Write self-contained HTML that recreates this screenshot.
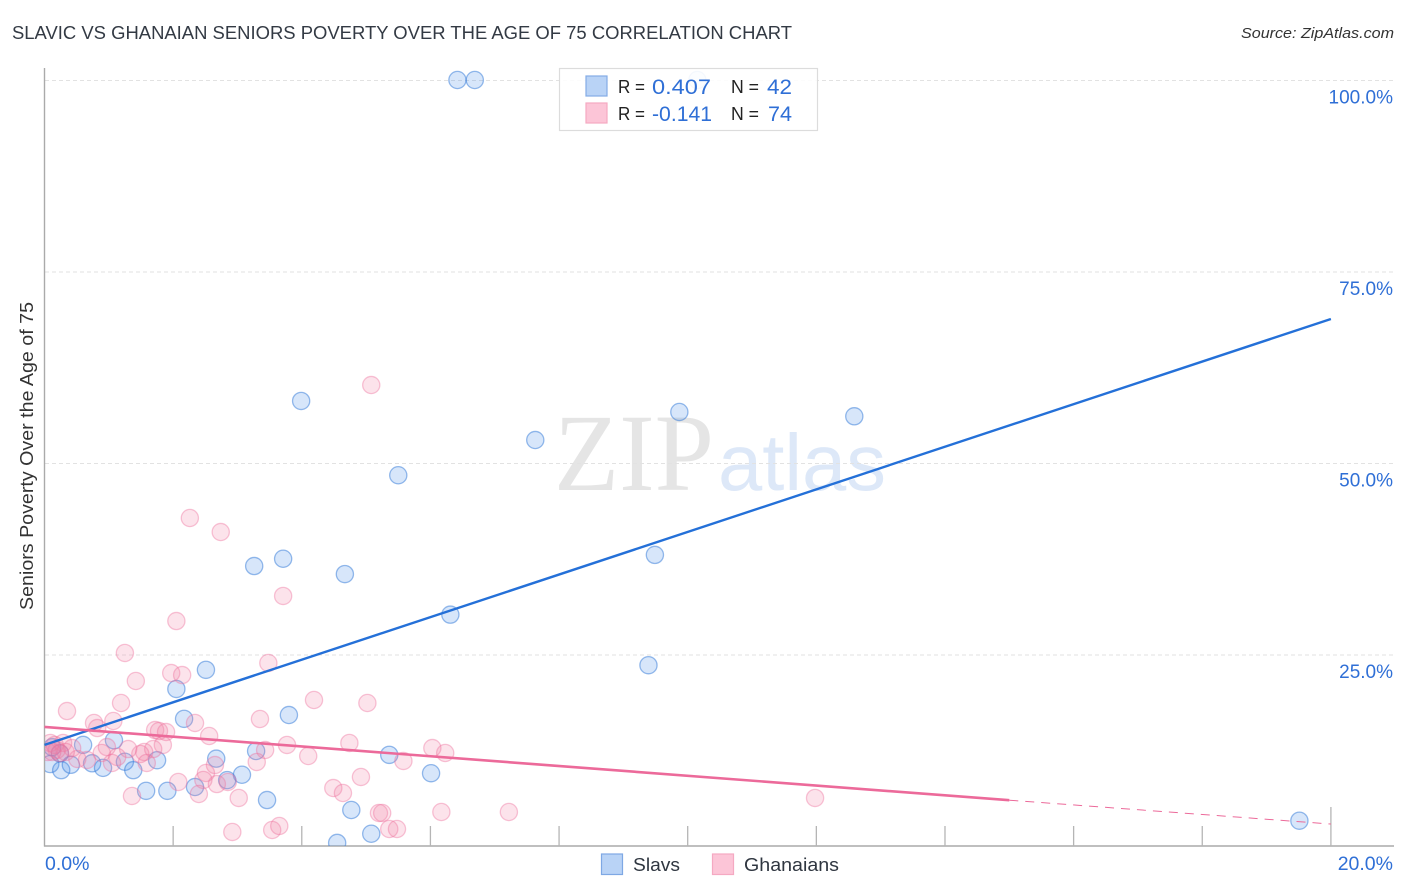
<!DOCTYPE html>
<html lang="en">
<head>
<meta charset="utf-8">
<title>Slavic vs Ghanaian Seniors Poverty Over the Age of 75 Correlation Chart</title>
<style>
html,body{margin:0;padding:0;background:#fff;width:1406px;height:892px;overflow:hidden}
svg{display:block}
text{font-family:"Liberation Sans",sans-serif}
</style>
</head>
<body>
<svg id="chart" xmlns="http://www.w3.org/2000/svg" width="1406" height="892" viewBox="0 0 1406 892">
  <defs><clipPath id="plot-clip"><rect x="45" y="60" width="1349" height="786"/></clipPath></defs>
  <text x="12" y="39" font-size="18.5" fill="#333a44" textLength="780" lengthAdjust="spacingAndGlyphs">SLAVIC VS GHANAIAN SENIORS POVERTY OVER THE AGE OF 75 CORRELATION CHART</text>
  <text x="1394" y="38" font-size="15" font-style="italic" fill="#333" text-anchor="end" textLength="153" lengthAdjust="spacingAndGlyphs">Source: ZipAtlas.com</text>
  <g>
    <text x="554" y="490" font-size="110" fill="#e5e5e5" textLength="160" lengthAdjust="spacingAndGlyphs" style="font-family:'Liberation Serif',serif">ZIP</text>
    <text x="718" y="490" font-size="80" fill="#dde8f8" textLength="168" lengthAdjust="spacingAndGlyphs">atlas</text>
  </g>
  <g id="grid"></g>
  <g id="axes"></g>
  <g id="marks" clip-path="url(#plot-clip)"></g>
  <g id="lines"></g>
  <g id="tick-labels"></g>
  <text transform="translate(33,456) rotate(-90)" font-size="18.5" fill="#333" text-anchor="middle" textLength="308" lengthAdjust="spacingAndGlyphs">Seniors Poverty Over the Age of 75</text>
  <g>
    <rect x="559.5" y="68.5" width="258" height="62" fill="#fff" fill-opacity="0.9" stroke="#dcdcdc" stroke-width="1.2"/>
    <rect x="586" y="76" width="21" height="20" fill="#b9d3f6" stroke="#84ace6" stroke-width="1.2"/>
    <rect x="586" y="103" width="21" height="20" fill="#fcc5d7" stroke="#f5a9c2" stroke-width="1.2"/>
    <text x="618" y="93" font-size="18.5" fill="#222" textLength="27" lengthAdjust="spacingAndGlyphs">R =</text>
    <text x="652" y="94" font-size="21" fill="#2f6fd6" textLength="59" lengthAdjust="spacingAndGlyphs">0.407</text>
    <text x="731" y="93" font-size="18.5" fill="#222" textLength="28" lengthAdjust="spacingAndGlyphs">N =</text>
    <text x="767" y="94" font-size="21" fill="#2f6fd6" textLength="25" lengthAdjust="spacingAndGlyphs">42</text>
    <text x="618" y="120" font-size="18.5" fill="#222" textLength="27" lengthAdjust="spacingAndGlyphs">R =</text>
    <text x="652" y="121" font-size="21" fill="#2f6fd6" textLength="60" lengthAdjust="spacingAndGlyphs">-0.141</text>
    <text x="731" y="120" font-size="18.5" fill="#222" textLength="28" lengthAdjust="spacingAndGlyphs">N =</text>
    <text x="768" y="121" font-size="21" fill="#2f6fd6" textLength="24" lengthAdjust="spacingAndGlyphs">74</text>
  </g>
  <g>
    <rect x="601.5" y="854" width="21" height="20.5" fill="#b9d3f6" stroke="#7ea8e4" stroke-width="1.2"/>
    <text x="633" y="871" font-size="18.5" fill="#2f3640" textLength="47" lengthAdjust="spacingAndGlyphs">Slavs</text>
    <rect x="712.5" y="854" width="21" height="20.5" fill="#fcc5d7" stroke="#f5a9c2" stroke-width="1.2"/>
    <text x="744" y="871" font-size="18.5" fill="#2f3640" textLength="95" lengthAdjust="spacingAndGlyphs">Ghanaians</text>
  </g>
</svg>
<script>
const slavsX = [6.42,6.69,10.15,3.99,7.63,9.87,12.59,5.50,3.26,3.71,4.67,9.49,6.31,9.39,2.51,2.05,2.17,3.80,1.08,3.29,5.36,2.67,6.01,3.07,2.84,2.34,1.58,1.91,3.46,4.77,5.08,4.55,19.51,0.12,0.09,0.24,0.26,0.41,0.60,0.74,0.91,1.25,1.38,1.75];
const slavsY = [100,100,100,58.1,53.0,56.66,56.1,48.4,36.55,37.5,35.5,38.0,30.2,23.6,23.0,20.5,16.6,17.1,13.8,12.4,11.9,11.4,9.5,9.3,8.6,7.7,7.2,7.2,6.0,4.7,1.6,0.4,3.3,12.9,10.7,12.1,9.9,10.6,13.2,10.8,10.2,11.0,9.9,11.2];
const ghanaiansX = [5.08,2.26,2.74,3.71,2.05,0.77,0.82,1.07,1.19,0.35,1.42,1.25,1.97,2.14,3.48,4.19,5.02,3.35,2.34,2.56,1.72,1.78,1.89,1.84,1.69,1.55,1.49,1.30,1.13,0.97,0.89,0.66,0.51,0.43,0.29,0.09,0.19,0.24,1.59,1.05,3.43,3.30,3.77,4.10,4.74,5.58,6.03,6.23,2.65,2.51,2.47,2.08,2.68,2.85,2.40,1.36,3.02,4.92,4.49,4.64,5.20,5.25,6.17,2.92,3.54,3.65,5.36,5.48,7.22,11.98,0.16,0.05,0.33,0.12];
const ghanaiansY = [60.18,42.82,40.99,32.64,29.37,16.06,15.40,16.32,18.67,17.62,21.54,25.20,22.58,22.32,23.89,19.06,18.67,16.58,16.06,14.36,15.14,15.01,14.88,13.19,12.66,12.27,12.01,12.66,11.62,12.92,12.14,11.23,11.36,12.79,13.45,13.45,12.53,12.14,10.84,10.84,12.53,10.97,13.19,11.75,13.45,11.10,12.79,12.14,10.57,9.53,8.62,8.36,8.09,8.36,6.79,6.53,6.27,9.01,7.57,6.92,4.31,4.31,4.44,1.83,2.09,2.61,2.22,2.22,4.44,6.27,13.19,12.27,12.27,12.27];
const slavsTrendX = [0,20];
const slavsTrendY = [13.2,68.8];
const ghanaiansSolidX = [0,15];
const ghanaiansSolidY = [15.54,5.98];
const ghanaiansDashX = [15,20];
const ghanaiansDashY = [5.98,2.87];
const yTicks = [25,50,75,100];
const yTickLabels = ["25.0%","50.0%","75.0%","100.0%"];
const xTicks = [2,4,6,8,10,12,14,16,18,20];
const xEndTicks = [0,20];
const xEndLabels = ["0.0%","20.0%"];

const NS = "http://www.w3.org/2000/svg";
const xScale = v => 44.5 + v * 64.32;
const yScale = v => 846 - v * 7.66;
function el(parent, tag, attrs) {
  const node = document.createElementNS(NS, tag);
  for (const k in attrs) node.setAttribute(k, attrs[k]);
  document.getElementById(parent).appendChild(node);
  return node;
}

yTicks.forEach(function (t) {
  const g = el("grid", "line", {x1: 45, x2: 1394, y1: yScale(t) + 0.5, y2: yScale(t) + 0.5, stroke: "#e2e2e2", "stroke-width": 1, "stroke-dasharray": "4 3"});
  
  
});

const yAxis = el("axes", "line", {x1: 44.5, x2: 44.5, y1: 68, y2: 846.5, stroke: "#aaa", "stroke-width": 1.4});


const xAxis = el("axes", "line", {x1: 44, x2: 1394, y1: 846, y2: 846, stroke: "#aaa", "stroke-width": 1.4});


xTicks.forEach(function (t) {
  const top = t === 20 ? 807 : 826;
  const tick = el("axes", "line", {x1: xScale(t), x2: xScale(t), y1: top, y2: 846, stroke: "#b5b5b5", "stroke-width": 1.3});
  
  
});

function drawPoints(xs, ys, fill, stroke, name, strokeOpacity) {
  xs.forEach(function (x, i) {
    const c = el("marks", "circle", {cx: xScale(x), cy: yScale(ys[i]), r: 8.6, fill: fill, "fill-opacity": 0.22, stroke: stroke, "stroke-opacity": strokeOpacity, "stroke-width": 1.3});
    
    
  });
}
drawPoints(slavsX, slavsY, "#4a8fe6", "#2f78d8", "slavs-point", 0.5);
drawPoints(ghanaiansX, ghanaiansY, "#f27ea4", "#ee6f9a", "ghanaians-point", 0.4);

const blueLine = el("lines", "line", {x1: xScale(slavsTrendX[0]), y1: yScale(slavsTrendY[0]), x2: xScale(slavsTrendX[1]), y2: yScale(slavsTrendY[1]), stroke: "#2470d8", "stroke-width": 2.4});


const pinkLine = el("lines", "line", {x1: xScale(ghanaiansSolidX[0]), y1: yScale(ghanaiansSolidY[0]), x2: xScale(ghanaiansSolidX[1]), y2: yScale(ghanaiansSolidY[1]), stroke: "#ec6a9a", "stroke-width": 2.6});


const pinkDash = el("lines", "line", {x1: xScale(ghanaiansDashX[0]), y1: yScale(ghanaiansDashY[0]), x2: xScale(ghanaiansDashX[1]), y2: yScale(ghanaiansDashY[1]), stroke: "#ec6a9a", "stroke-width": 1, "stroke-dasharray": "9 7"});



yTicks.forEach(function (t, i) {
  const n = el("tick-labels", "text", {x: 1393, y: yScale(t) + 23.5, "font-size": 19, fill: "#2f6fd6", "text-anchor": "end"});
  n.textContent = yTickLabels[i];
  
  
});
xEndTicks.forEach(function (t, i) {
  const n = el("tick-labels", "text", {x: i === 0 ? 45 : 1393, y: 870, "font-size": 19.5, fill: "#2f6fd6", "text-anchor": i === 0 ? "start" : "end"});
  n.textContent = xEndLabels[i];
  
  
});
</script>
</body>
</html>
